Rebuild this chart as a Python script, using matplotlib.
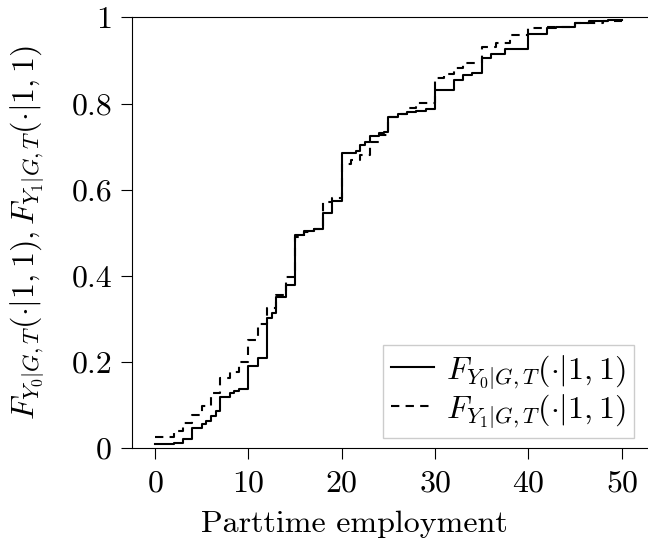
import matplotlib
matplotlib.use("Agg")
import matplotlib.pyplot as plt

# Fonts: Computer Modern look
plt.rcParams['font.family'] = 'serif'
plt.rcParams['font.serif'] = ['cmr10']
plt.rcParams['mathtext.fontset'] = 'cm'
plt.rcParams['axes.formatter.use_mathtext'] = True

# Данные: ступенчатые функции распределения (читаются с картинки)
x_y0 = [0, 2, 3, 4, 5, 5.5, 6, 6.5, 7, 8, 8.5, 9, 10, 11, 12, 12.5, 13, 14,
        15, 16, 17, 18, 19, 20, 21.5, 22, 22.5, 23, 24, 24.5, 25, 26, 27, 28,
        29, 30, 32, 33, 34, 35, 36, 37.5, 40, 42, 43, 45, 46.5, 48.5, 50]
f_y0 = [0.009, 0.013, 0.022, 0.046, 0.056, 0.064, 0.075, 0.087, 0.120, 0.128,
        0.134, 0.137, 0.192, 0.209, 0.302, 0.313, 0.350, 0.380, 0.494, 0.504,
        0.510, 0.545, 0.573, 0.685, 0.691, 0.705, 0.712, 0.725, 0.731, 0.735,
        0.770, 0.776, 0.780, 0.784, 0.788, 0.832, 0.855, 0.866, 0.872, 0.905,
        0.915, 0.927, 0.962, 0.975, 0.977, 0.988, 0.991, 0.993, 0.993]

x_y1 = [0, 2, 3, 4, 5, 6, 7, 8, 9, 10, 11, 12, 13, 14, 15, 16, 17, 18, 19,
        20, 21, 22, 23, 24, 25, 26, 27, 28, 30, 31, 32, 33, 35, 36.5, 38, 40,
        42, 45, 48, 50]
f_y1 = [0.027, 0.039, 0.058, 0.077, 0.097, 0.128, 0.162, 0.178, 0.201, 0.251,
        0.289, 0.325, 0.355, 0.398, 0.490, 0.502, 0.508, 0.571, 0.580, 0.661,
        0.668, 0.681, 0.711, 0.727, 0.770, 0.777, 0.790, 0.802, 0.859, 0.869,
        0.882, 0.895, 0.932, 0.940, 0.959, 0.975, 0.979, 0.988, 0.991, 0.991]

y_ticks = [0, 0.2, 0.4, 0.6, 0.8, 1]
y_tick_labels = ['0', '0.2', '0.4', '0.6', '0.8', '1']
x_ticks = [0, 10, 20, 30, 40, 50]

label_y0 = r'$F_{Y_0|G,T}(\cdot|1,1)$'
label_y1 = r'$F_{Y_1|G,T}(\cdot|1,1)$'
label_y = r'$F_{Y_0|G,T}(\cdot|1,1), F_{Y_1|G,T}(\cdot|1,1)$'

FS = 23

fig = plt.figure(figsize=(6.48, 5.46), dpi=100)
ax = fig.add_axes([0.203, 0.179, 0.797, 0.789])

ax.step(x_y0, f_y0, where='post', color='black', lw=1.5, label=label_y0)
ax.step(x_y1, f_y1, where='post', color='black', lw=1.5,
        linestyle=(0, (4, 3)), label=label_y1)

ax.set_xlim(-2.5, 52.8)
ax.set_ylim(0, 1)
ax.set_xticks(x_ticks)
ax.set_yticks(y_ticks)
ax.set_yticklabels(y_tick_labels)
ax.tick_params(direction='out', length=8, width=0.8, labelsize=FS)
ax.tick_params(axis='x', pad=8)
ax.tick_params(axis='y', pad=6)

ax.spines['right'].set_visible(False)
for s in ['left', 'bottom', 'top']:
    ax.spines[s].set_linewidth(0.8)

ax.set_xlabel('Parttime employment', fontsize=FS, labelpad=9)
ax.xaxis.label.set_x(0.431)
ax.set_ylabel(label_y, fontsize=FS, labelpad=18)

leg = ax.legend(loc='lower right', bbox_to_anchor=(0.973, 0.024),
                borderaxespad=0, fontsize=FS, fancybox=False, framealpha=1,
                edgecolor='#cccccc', handlelength=1.35, handletextpad=0.4,
                borderpad=0.25, labelspacing=0.05)

fig.savefig('out.png', dpi=100)
